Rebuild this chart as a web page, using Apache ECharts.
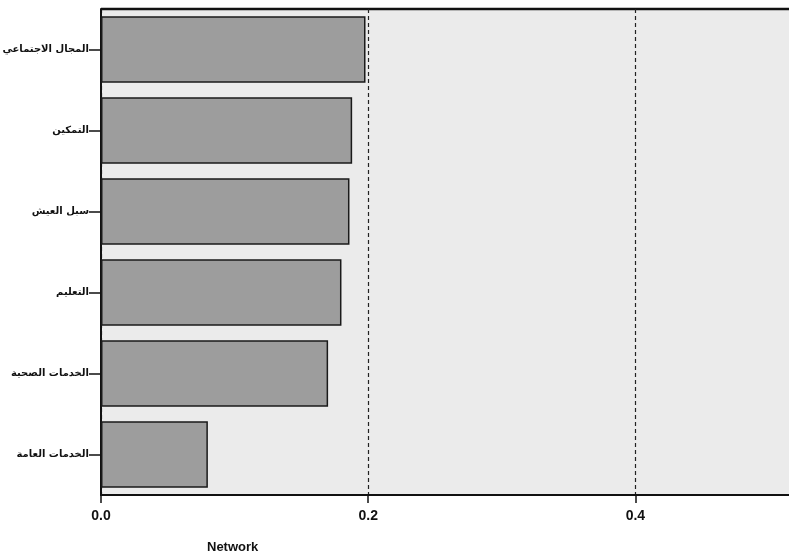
<!DOCTYPE html>
<html>
<head>
<meta charset="utf-8">
<script src="https://cdn.jsdelivr.net/npm/echarts@6/dist/echarts.min.js"></script>
<style>
  html, body { margin: 0; padding: 0; background: #fff; }
  #main { width: 789px; height: 558px; }
</style>
</head>
<body>
<div id="main"></div>
<script type="text/javascript">
    // categories top to bottom
    var categories = ['المجال الاجتماعي', 'التمكين', 'سبل العيش', 'التعليم', 'الخدمات الصحية', 'الخدمات العامة'];
    var values = [0.198, 0.188, 0.186, 0.180, 0.170, 0.080];
    var xTicks = [0, 0.2, 0.4];

    var myChart = echarts.init(document.getElementById('main'));
    var option = {
        backgroundColor: '#ffffff',
        animation: false,
        grid: {
            left: 101,
            right: 0,
            top: 9,
            bottom: 63,
            outerBoundsMode: 'none',
            containLabel: false,
            show: true,
            backgroundColor: '#ebebeb',
            borderWidth: 0
        },
        graphic: [
            {
                type: 'line',
                shape: { x1: 101, y1: 9, x2: 789, y2: 9 },
                style: { stroke: '#111', lineWidth: 2.5 }
            },
            {
                type: 'text',
                left: 207,
                top: 541,
                style: {
                    text: 'Network',
                    font: 'bold 13px "Liberation Sans", Arial, sans-serif',
                    fill: '#111'
                }
            }
        ],
        xAxis: {
            type: 'value',
            min: 0,
            max: 0.515,
            interval: 0.2,
            axisLine: { show: true, lineStyle: { color: '#111', width: 2 } },
            axisTick: {
                show: true, length: 8,
                lineStyle: { color: '#111', width: 1.5 },
                customValues: xTicks
            },
            axisLabel: {
                color: '#111',
                fontSize: 14,
                fontWeight: 'bold',
                fontFamily: '"Liberation Sans", Arial, sans-serif',
                margin: 14,
                customValues: xTicks,
                formatter: function (v) { return v.toFixed(1); }
            },
            splitLine: {
                show: true,
                lineStyle: { color: '#222', type: [4, 3], width: 1.2 }
            }
        },
        yAxis: {
            type: 'category',
            data: categories,
            inverse: true,
            axisLine: { show: true, lineStyle: { color: '#111', width: 2 } },
            axisTick: {
                show: true, alignWithLabel: true, length: 12,
                lineStyle: { color: '#111', width: 1.5 }
            },
            axisLabel: {
                color: '#111',
                fontSize: 10,
                fontWeight: 'bold',
                fontFamily: '"DejaVu Sans", sans-serif',
                margin: 12
            },
            splitLine: { show: false }
        },
        series: [
            {
                type: 'bar',
                data: values,
                barCategoryGap: '18%',
                itemStyle: {
                    color: '#9d9d9d',
                    borderColor: '#1a1a1a',
                    borderWidth: 1.5
                }
            }
        ]
    };
    myChart.setOption(option);
</script>
</body>
</html>
